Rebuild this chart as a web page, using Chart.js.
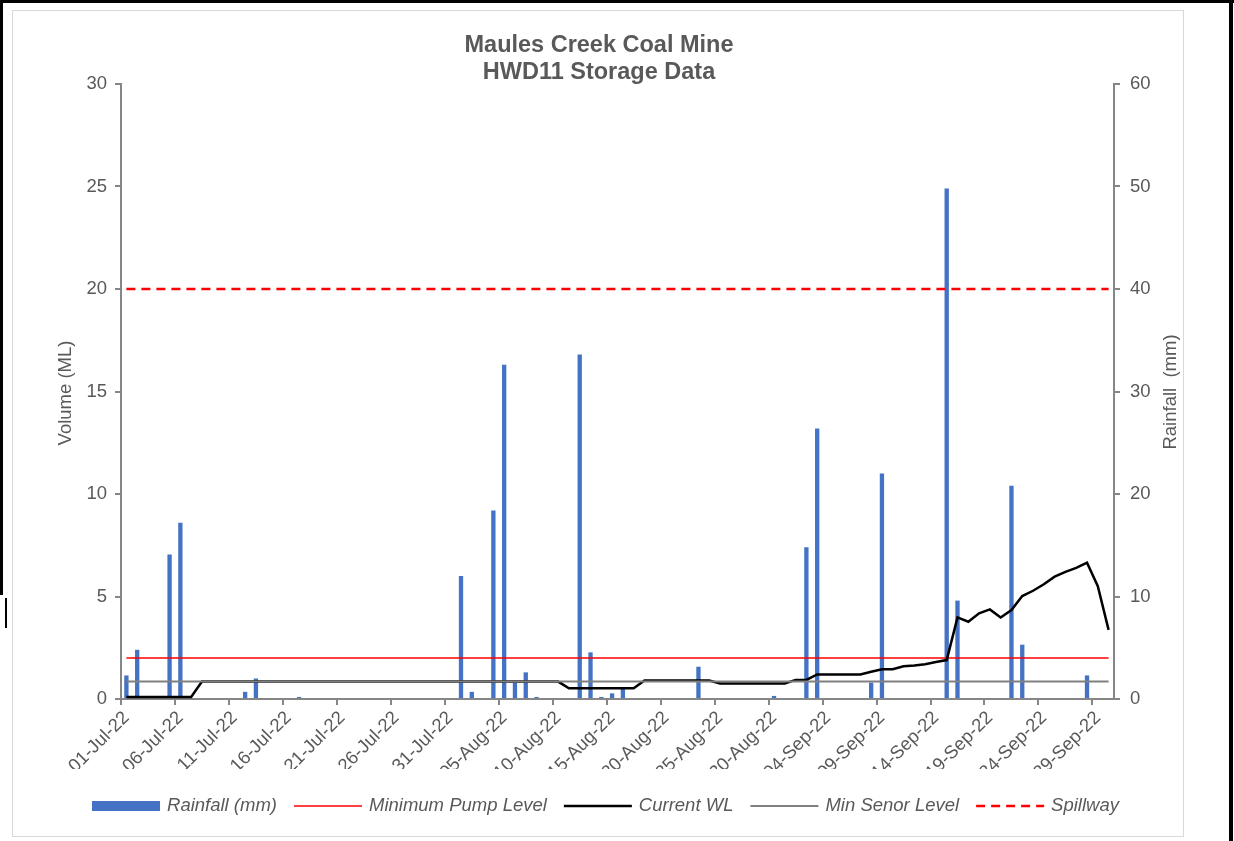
<!DOCTYPE html>
<html>
<head>
<meta charset="utf-8">
<title>HWD11 Storage Data</title>
<script src="https://cdn.jsdelivr.net/npm/chart.js@4.4.1/dist/chart.umd.min.js"></script>
<style>
  html, body { margin: 0; padding: 0; background: #fff; overflow: hidden; }
  canvas { display: block; }
</style>
</head>
<body>
<canvas id="chart" width="1234" height="841"></canvas>
<script>
// one category per day, 01-Jul-22 .. 30-Sep-22
const months = [['Jul', 31], ['Aug', 31], ['Sep', 30]];
const days = [];
months.forEach(([m, n]) => {
  for (let d = 1; d <= n; d++) days.push(String(d).padStart(2, '0') + '-' + m + '-22');
});

// daily rainfall (mm), right axis
const rainfall = [
  2.3, 4.8, 0, 0, 14.1, 17.2, 0, 0, 0, 0,
  0, 0.7, 2.0, 0, 0, 0, 0.2, 0, 0, 0,
  0, 0, 0, 0, 0, 0, 0, 0, 0, 0,
  0, 12.0, 0.7, 0, 18.4, 32.6, 1.6, 2.6, 0.2, 0,
  0, 0, 33.6, 4.55, 0.2, 0.55, 1.0, 0, 0.1, 0,
  0, 0.1, 0, 3.15, 0, 0, 0, 0, 0, 0,
  0.3, 0.1, 0, 14.8, 26.4, 0.1, 0, 0, 0, 1.6,
  22.0, 0.1, 0, 0, 0, 0, 49.8, 9.6, 0, 0,
  0, 0, 20.8, 5.3, 0.1, 0, 0, 0, 0, 2.3,
  0, 0
];

// stored volume (ML), left axis
const currentWL = [
  0.1, 0.1, 0.1, 0.1, 0.1, 0.1, 0.1, 0.85, 0.85, 0.85,
  0.85, 0.85, 0.85, 0.85, 0.85, 0.85, 0.85, 0.85, 0.85, 0.85,
  0.85, 0.85, 0.85, 0.85, 0.85, 0.85, 0.85, 0.85, 0.85, 0.85,
  0.85, 0.85, 0.85, 0.85, 0.85, 0.85, 0.85, 0.85, 0.85, 0.85,
  0.85, 0.52, 0.52, 0.52, 0.52, 0.52, 0.52, 0.52, 0.9, 0.9,
  0.9, 0.9, 0.9, 0.9, 0.9, 0.76, 0.76, 0.76, 0.76, 0.76,
  0.76, 0.76, 0.93, 0.93, 1.2, 1.2, 1.2, 1.2, 1.2, 1.33,
  1.45, 1.45, 1.6, 1.63, 1.7, 1.8, 1.9, 3.98, 3.77, 4.18,
  4.37, 3.98, 4.34, 5.02, 5.28, 5.6, 5.97, 6.2, 6.4, 6.65,
  5.5, 3.37
];

// fixed levels (ML)
const minPumpLevel = 2.0;
const minSensorLevel = 0.85;
const spillwayLevel = 20.0;

const volumeMax = 30;
const rainMax = 60;

const TEXT = '#595959';
const AXIS = '#868686';
const FONT = '"Liberation Sans", Arial, sans-serif';

// a level line running across the whole period
function level(v) {
  return [{ x: days[0], y: v }, { x: days[days.length - 1], y: v }];
}

const decor = {
  id: 'decor',
  beforeDraw(c) {
    const ctx = c.ctx;
    ctx.save();
    ctx.fillStyle = '#fff';
    ctx.fillRect(0, 0, c.width, c.height);
    // chart border
    ctx.strokeStyle = '#d9d9d9';
    ctx.lineWidth = 1;
    ctx.strokeRect(12.5, 10.5, 1171, 826);
    // black frame round the picture
    ctx.fillStyle = '#000';
    ctx.fillRect(0, 0, c.width, 3);
    ctx.fillRect(0, 0, 3, 595);
    ctx.fillRect(5, 598, 2, 30);
    ctx.fillRect(1229, 0, 4, c.height);
    ctx.restore();
  },
  afterDraw(c) {
    const ctx = c.ctx;
    ctx.save();
    ctx.fillStyle = TEXT;
    ctx.textAlign = 'center';
    ctx.textBaseline = 'alphabetic';
    // title
    ctx.font = 'bold 23.5px ' + FONT;
    ctx.fillText('Maules Creek Coal Mine', 599, 52);
    ctx.fillText('HWD11 Storage Data', 599, 78.5);
    // axis titles
    ctx.font = '18.5px ' + FONT;
    ctx.textBaseline = 'middle';
    ctx.translate(66, 393);
    ctx.rotate(-Math.PI / 2);
    ctx.fillText('Volume (ML)', 0, 0);
    ctx.setTransform(1, 0, 0, 1, 0, 0);
    ctx.translate(1171, 392);
    ctx.rotate(-Math.PI / 2);
    ctx.fillText('Rainfall  (mm)', 0, 0);
    ctx.setTransform(1, 0, 0, 1, 0, 0);

    // legend
    ctx.font = 'italic 18.5px ' + FONT;
    ctx.textAlign = 'left';
    const sw = 68, gapText = 7, gapItem = 17, y = 806;
    const items = c.data.datasets.map(ds => ({ ds, w: ctx.measureText(ds.label).width }));
    const total = items.reduce((s, it) => s + sw + gapText + it.w, 0) + gapItem * (items.length - 1);
    let x = 605.5 - total / 2;
    items.forEach(({ ds, w }) => {
      if (ds.type === 'line') {
        ctx.strokeStyle = ds.borderColor;
        ctx.lineWidth = ds.borderWidth;
        ctx.setLineDash(ds.borderDash || []);
        ctx.beginPath();
        ctx.moveTo(x, y);
        ctx.lineTo(x + sw, y);
        ctx.stroke();
        ctx.setLineDash([]);
      } else {
        ctx.fillStyle = ds.backgroundColor;
        ctx.fillRect(x, y - 5, sw, 10);
      }
      ctx.fillStyle = TEXT;
      ctx.fillText(ds.label, x + sw + gapText, y);
      x += sw + gapText + w + gapItem;
    });
    ctx.restore();
  }
};

new Chart(document.getElementById('chart'), {
  type: 'bar',
  data: {
    labels: days,
    datasets: [
      {
        type: 'bar',
        label: 'Rainfall (mm)',
        data: rainfall,
        yAxisID: 'y1',
        backgroundColor: '#4472C4',
        barPercentage: 0.4,
        categoryPercentage: 1,
        order: 5
      },
      {
        type: 'line',
        label: 'Minimum Pump Level',
        data: level(minPumpLevel),
        yAxisID: 'y',
        borderColor: '#FF0000',
        borderWidth: 1.5,
        pointRadius: 0,
        order: 4
      },
      {
        type: 'line',
        label: 'Current WL',
        data: currentWL,
        yAxisID: 'y',
        borderColor: '#000000',
        borderWidth: 2.5,
        pointRadius: 0,
        tension: 0,
        order: 3
      },
      {
        type: 'line',
        label: 'Min Senor Level',
        data: level(minSensorLevel),
        yAxisID: 'y',
        borderColor: '#808080',
        borderWidth: 2,
        pointRadius: 0,
        order: 2
      },
      {
        type: 'line',
        label: 'Spillway',
        data: level(spillwayLevel),
        yAxisID: 'y',
        borderColor: '#FF0000',
        borderWidth: 2.5,
        borderDash: [9, 6],
        pointRadius: 0,
        order: 1
      }
    ]
  },
  options: {
    responsive: false,
    animation: false,
    layout: {
      padding: { left: 12, right: 51, top: 84, bottom: 72 }
    },
    plugins: {
      legend: { display: false },
      title: { display: false },
      tooltip: { enabled: false }
    },
    scales: {
      x: {
        offset: true,
        ticks: {
          autoSkip: false,
          minRotation: 45,
          maxRotation: 45,
          padding: 2,
          color: TEXT,
          font: { family: FONT, size: 18.5 },
          callback(v, i) { return i % 5 === 0 ? this.getLabelForValue(v) : ''; }
        },
        grid: {
          offset: true,
          drawOnChartArea: false,
          tickLength: 6,
          lineWidth: 2,
          color: ctx => (ctx.index % 5 === 0 ? AXIS : 'rgba(0,0,0,0)')
        },
        border: { color: AXIS, width: 2 },
        afterFit(s) { s.height = 70; }
      },
      y: {
        position: 'left',
        min: 0,
        max: volumeMax,
        ticks: {
          stepSize: 5,
          padding: 8,
          color: TEXT,
          font: { family: FONT, size: 18.5 }
        },
        grid: { drawOnChartArea: false, tickLength: 6, lineWidth: 2, color: AXIS },
        border: { color: AXIS, width: 2 },
        afterFit(s) { s.width = 109; }
      },
      y1: {
        position: 'right',
        min: 0,
        max: rainMax,
        ticks: {
          stepSize: 10,
          padding: 10,
          color: TEXT,
          font: { family: FONT, size: 18.5 }
        },
        grid: { drawOnChartArea: false, tickLength: 6, lineWidth: 2, color: AXIS },
        border: { color: AXIS, width: 2 },
        afterFit(s) { s.width = 69; }
      }
    }
  },
  plugins: [decor]
});
</script>
</body>
</html>
